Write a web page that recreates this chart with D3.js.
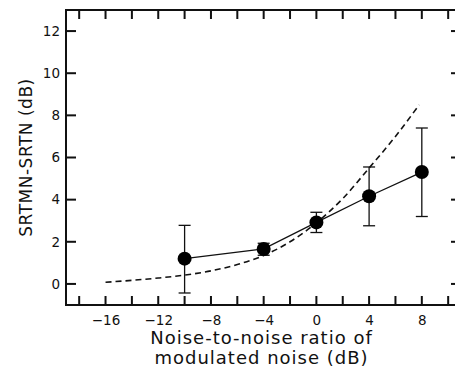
<!DOCTYPE html>
<html>
<head>
<meta charset="utf-8">
<script src="https://cdn.jsdelivr.net/npm/d3@7"></script>
<style>
  body { margin: 0; background: #fff; }
  svg text { font-family: "DejaVu Sans", "Liberation Sans", sans-serif; fill: #111; }
</style>
</head>
<body>
<div id="chart"></div>
<script>
// measured points (mean +/- error)
const ratio = [-10, -4, 0, 4, 8];
const diff = [1.2, 1.66, 2.92, 4.16, 5.31];
const errHi = [2.78, 1.93, 3.4, 5.55, 7.4];
const errLo = [-0.43, 1.36, 2.44, 2.76, 3.2];

// model prediction (dashed)
const modelX = [-16, -14, -12, -10, -8, -6, -4, -2, 0, 2, 4, 6, 7.8];
const modelY = [0.08, 0.17, 0.28, 0.42, 0.62, 0.92, 1.35, 2.0, 2.9, 4.05, 5.5, 7.0, 8.5];

const xTicks = [-16, -12, -8, -4, 0, 4, 8];
const xMinor = [-18, -16, -14, -12, -10, -8, -6, -4, -2, 0, 2, 4, 6, 8, 10];
const yTicks = [0, 2, 4, 6, 8, 10, 12];

const W = 455, H = 369;
const margin = { top: 10, left: 66, right: 457, bottom: 305 };

const svg = d3.select('#chart').append('svg')
  .attr('width', W)
  .attr('height', H);

const x = d3.scaleLinear().domain([-19, 10.67]).range([margin.left, margin.right]);
const y = d3.scaleLinear().domain([-1, 13]).range([margin.bottom, margin.top]);

const fmt = d => d < 0 ? '\u2212' + Math.abs(d) : String(d);

// frame
svg.append('rect')
  .attr('x', margin.left)
  .attr('y', margin.top)
  .attr('width', margin.right - margin.left)
  .attr('height', margin.bottom - margin.top)
  .attr('fill', 'none')
  .attr('stroke', '#111')
  .attr('stroke-width', 2);

// inward ticks on all four sides (drawn as thin filled rects)
svg.selectAll('rect.tb').data(xMinor).enter().append('rect')
  .attr('class', 'tb')
  .attr('x', d => x(d) - 1).attr('y', margin.bottom - 9)
  .attr('width', 2).attr('height', 9)
  .attr('fill', '#111');
svg.selectAll('rect.tt').data(xMinor).enter().append('rect')
  .attr('class', 'tt')
  .attr('x', d => x(d) - 1).attr('y', margin.top)
  .attr('width', 2).attr('height', 9)
  .attr('fill', '#111');
svg.selectAll('rect.tl').data(yTicks).enter().append('rect')
  .attr('class', 'tl')
  .attr('x', margin.left).attr('y', d => y(d) - 1)
  .attr('width', 10).attr('height', 2)
  .attr('fill', '#111');
svg.selectAll('rect.tr').data(yTicks).enter().append('rect')
  .attr('class', 'tr')
  .attr('x', margin.right - 6).attr('y', d => y(d) - 1)
  .attr('width', 6).attr('height', 2)
  .attr('fill', '#111');

// tick labels
svg.append('g')
  .attr('transform', `translate(0, ${margin.bottom})`)
  .call(d3.axisBottom(x).tickValues(xTicks).tickSize(0).tickPadding(10).tickFormat(fmt))
  .call(g => g.select('.domain').remove())
  .selectAll('text').style('font-size', '13.5px').style('font-family', '"DejaVu Sans", sans-serif');

svg.append('g')
  .attr('transform', `translate(${margin.left}, 0)`)
  .call(d3.axisLeft(y).tickValues(yTicks).tickSize(0).tickPadding(6).tickFormat(fmt))
  .call(g => g.select('.domain').remove())
  .selectAll('text').style('font-size', '13.5px').style('font-family', '"DejaVu Sans", sans-serif');

// dashed model curve
const modelPts = modelX.map((v, i) => [v, modelY[i]]);
svg.append('path')
  .datum(modelPts)
  .attr('fill', 'none')
  .attr('stroke', '#111')
  .attr('stroke-width', 1.6)
  .attr('stroke-dasharray', '6,4')
  .attr('d', d3.line().x(d => x(d[0])).y(d => y(d[1])).curve(d3.curveMonotoneX));

// data line
const pts = ratio.map((v, i) => ({ x: v, y: diff[i], hi: errHi[i], lo: errLo[i] }));
svg.append('path')
  .datum(pts)
  .attr('fill', 'none')
  .attr('stroke', '#111')
  .attr('stroke-width', 1.3)
  .attr('d', d3.line().x(d => x(d.x)).y(d => y(d.y)));

// error bars
svg.selectAll('line.ev').data(pts).enter().append('line')
  .attr('class', 'ev')
  .attr('x1', d => x(d.x)).attr('x2', d => x(d.x))
  .attr('y1', d => y(d.hi)).attr('y2', d => y(d.lo))
  .attr('stroke', '#111').attr('stroke-width', 1.3);
svg.selectAll('line.eh').data(pts).enter().append('line')
  .attr('class', 'eh')
  .attr('x1', d => x(d.x) - 6).attr('x2', d => x(d.x) + 6)
  .attr('y1', d => y(d.hi)).attr('y2', d => y(d.hi))
  .attr('stroke', '#111').attr('stroke-width', 1.3);
svg.selectAll('line.el').data(pts).enter().append('line')
  .attr('class', 'el')
  .attr('x1', d => x(d.x) - 6).attr('x2', d => x(d.x) + 6)
  .attr('y1', d => y(d.lo)).attr('y2', d => y(d.lo))
  .attr('stroke', '#111').attr('stroke-width', 1.3);

// markers
svg.selectAll('circle.nodes').data(pts).enter().append('circle')
  .attr('class', 'nodes')
  .attr('cx', d => x(d.x))
  .attr('cy', d => y(d.y))
  .attr('r', 7)
  .attr('fill', '#000');

// axis titles
const cx = (margin.left + margin.right) / 2;
svg.append('text')
  .attr('x', cx)
  .attr('y', 344)
  .attr('text-anchor', 'middle')
  .style('font-size', '18px')
  .style('letter-spacing', '1px')
  .text('Noise-to-noise ratio of');
svg.append('text')
  .attr('x', cx)
  .attr('y', 364)
  .attr('text-anchor', 'middle')
  .style('font-size', '18px')
  .style('letter-spacing', '1px')
  .text('modulated noise (dB)');

svg.append('text')
  .attr('transform', `translate(32, ${(margin.top + margin.bottom) / 2}) rotate(-90)`)
  .attr('text-anchor', 'middle')
  .style('font-size', '17px')
  .style('letter-spacing', '0.5px')
  .text('SRTMN-SRTN (dB)');
</script>
</body>
</html>
